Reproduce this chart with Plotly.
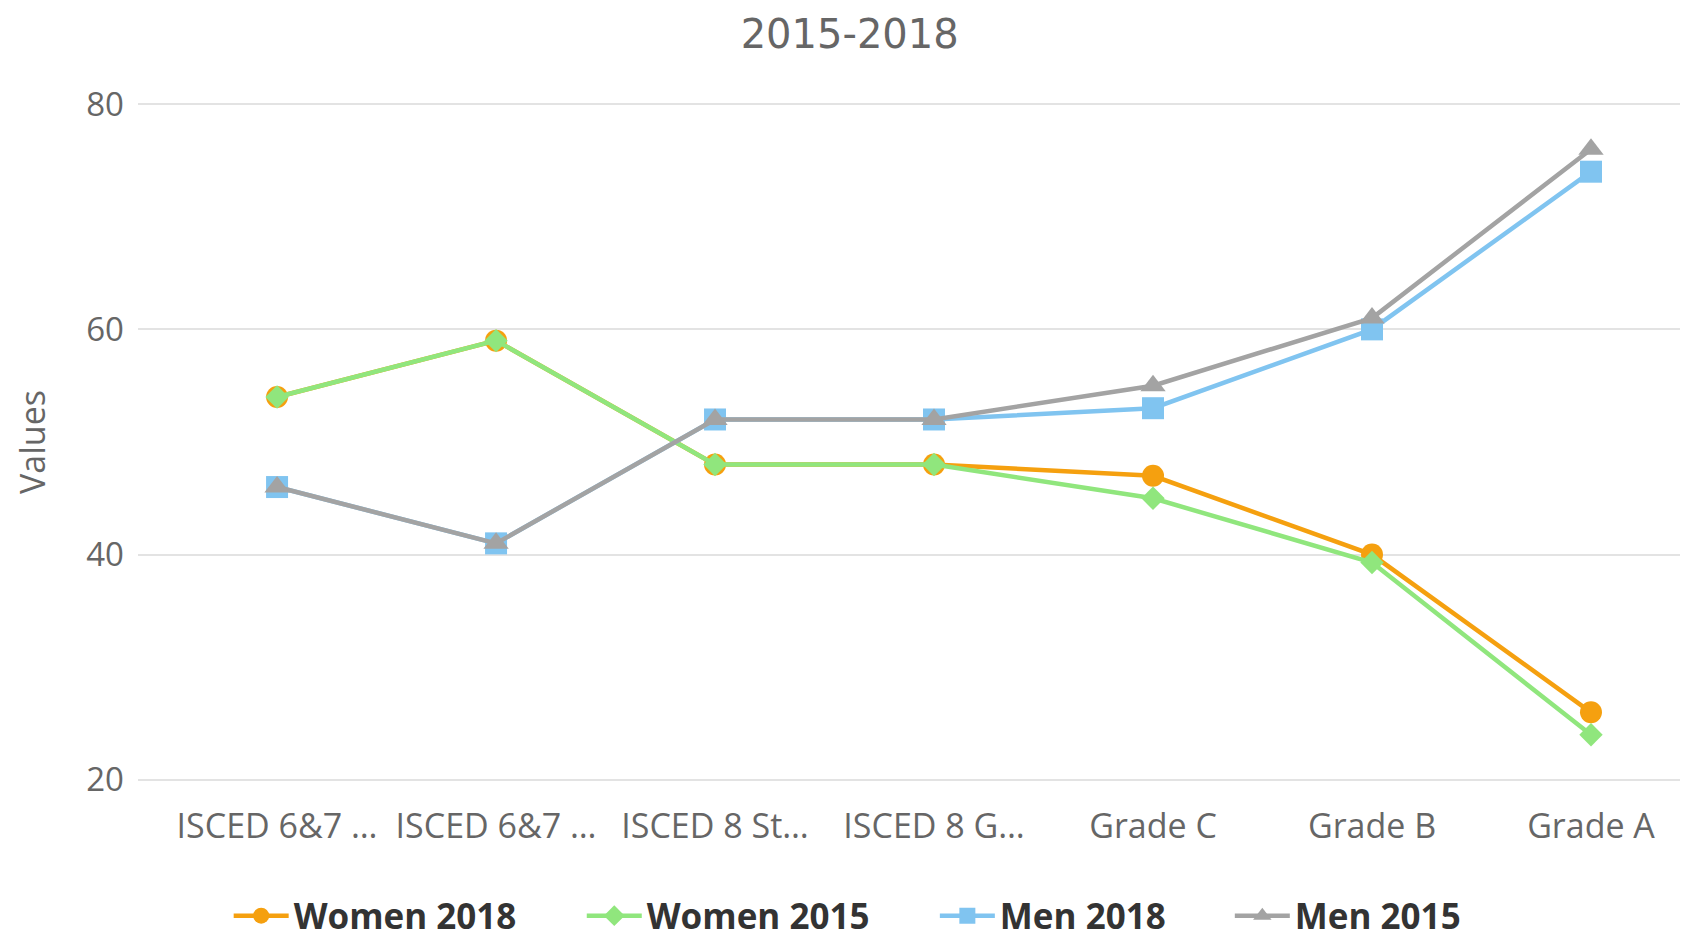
import plotly.graph_objects as go

categories = ["ISCED 6&7 …", "ISCED 6&7 …", "ISCED 8 St…", "ISCED 8 G…", "Grade C", "Grade B", "Grade A"]
women_2018 = [54, 59, 48, 48, 47, 40, 26]
women_2015 = [54, 59, 48, 48, 45, 39.3, 24]
men_2018 = [46, 41, 52, 52, 53, 60, 74]
men_2015 = [46, 41, 52, 52, 55, 61, 76]
series_names = ["Women 2018", "Women 2015", "Men 2018", "Men 2015"]

x = list(range(len(categories)))

styles = [
    ("#f5a00f", "circle", 22),
    ("#90e67d", "diamond", 18),
    ("#80c4f0", "square", 22),
    ("#a3a3a3", "triangle-up", 22),
]
values = [women_2018, women_2015, men_2018, men_2015]
legend_ids = ["legend", "legend2", "legend3", "legend4"]
legend_x = [0.0585, 0.2863, 0.5141, 0.7044]

fig = go.Figure()
for name, vals, (color, sym, size), lid in zip(series_names, values, styles, legend_ids):
    fig.add_trace(go.Scatter(
        x=x, y=vals, name=name, mode="lines+markers",
        line=dict(color=color, width=4.5),
        marker=dict(symbol=sym, size=size, color=color),
        legend=lid,
    ))

legend_font = dict(family="Open Sans", size=35, color="#333333", weight="bold")
legend_layouts = {}
for lid, lx in zip(legend_ids, legend_x):
    legend_layouts[lid] = dict(orientation="h", x=lx, xanchor="left", y=-0.199, yanchor="middle",
                               font=legend_font, itemwidth=55, bgcolor="rgba(0,0,0,0)")

fig.update_layout(
    width=1680, height=930,
    paper_bgcolor="white", plot_bgcolor="white",
    margin=dict(l=130, r=0, t=95, b=157, autoexpand=False),
    title=dict(text="2015-2018", x=0.501, xanchor="center", y=0.972, yanchor="middle",
               font=dict(family="DejaVu Sans", size=40, color="#666666")),
    font=dict(family="Open Sans", color="#666666"),
    showlegend=True,
    xaxis=dict(
        range=[-0.635, 6.443], tickvals=x, ticktext=categories,
        showgrid=False, zeroline=False, showline=False, automargin=False,
        ticks="", tickfont=dict(family="Open Sans", size=34, color="#666666"),
        ticklabelstandoff=22,
    ),
    yaxis=dict(
        range=[19.9, 80.1], tickvals=[20, 40, 60, 80],
        showgrid=True, gridcolor="#e3e3e3", gridwidth=2, automargin=False,
        zeroline=False, showline=False, ticks="",
        tickfont=dict(family="Open Sans", size=33, color="#666666"),
        ticklabelstandoff=13,
        title=dict(text="Values", font=dict(family="Open Sans", size=34, color="#666666"), standoff=30),
    ),
    **legend_layouts,
)

fig.write_html("out.html")
